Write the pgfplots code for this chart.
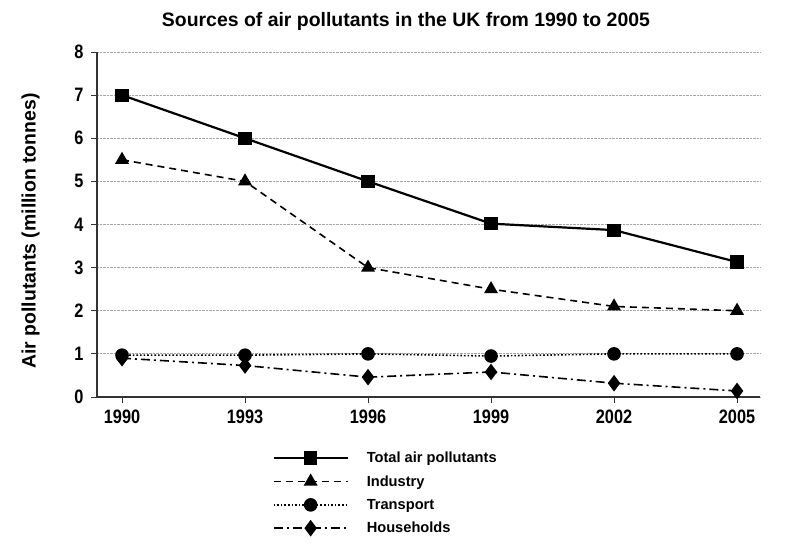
\documentclass[border=0pt]{standalone}
\usepackage{fontspec}
\setmainfont{Liberation Sans}
\newfontfamily\narrowfont{Liberation Sans}[FakeStretch=0.84]
\usepackage{pgfplots}
\pgfplotsset{compat=1.18}
\begin{document}
\begin{tikzpicture}
\path[use as bounding box] (-97bp,-153bp) rectangle (703bp,397bp);
\begin{axis}[
  scale only axis,
  width=663bp, height=345bp,
  at={(0,0)}, anchor=south west,
  xmin=1989.39, xmax=2005.56,
  ymin=0, ymax=8,
  axis lines=left,
  axis line style={-, line width=1.2bp, black!80},
  xtick={1990,1993,1996,1999,2002,2005},
  ytick={0,1,...,8},
  tick align=outside,
  major tick length=6bp,
  tick style={line width=1bp, black!80},
  xticklabel style={font=\narrowfont\bfseries\fontsize{19.5}{21}\selectfont, yshift=-3bp},
  yticklabel style={font=\narrowfont\bfseries\fontsize{19.5}{21}\selectfont, xshift=-4bp},
  /pgf/number format/assume math mode=true,
  /pgf/number format/1000 sep={},
  ymajorgrids,
  major grid style={densely dotted, gray!70, line width=0.8bp},
  ylabel={\bfseries Air pollutants (million tonnes)},
  ylabel style={font=\fontsize{19.5}{21}\selectfont, at={(rel axis cs:-0.100,0.481)}, anchor=center},
  title={\bfseries Sources of air pollutants in the UK from 1990 to 2005},
  title style={font=\fontsize{19.5}{21}\selectfont, at={(rel axis cs:0.466,1)}, anchor=south, yshift=12bp},
  clip=false,
  legend style={at={(rel axis cs:0.26,-0.147)}, anchor=north west, draw=none,
    font=\bfseries\fontsize{14.7}{16}\selectfont, row sep=7.5bp,
    legend cell align=left,
    /tikz/every odd column/.append style={column sep=16bp}},
  legend image code/.code={\draw[mark repeat=2,mark phase=2,#1] plot coordinates {(0bp,0bp) (37bp,0bp) (74bp,0bp)};},
]
\addplot[black, line width=2.2bp, mark=square*, mark size=5.5bp, mark options={solid}]
  coordinates {(1990,7.0) (1993,6.0) (1996,5.0) (1999,4.02) (2002,3.87) (2005,3.13)};
\addlegendentry{Total air pollutants}
\addplot[black, line width=1.6bp, dash pattern=on 7bp off 5bp, mark=triangle*, mark size=6.5bp, mark options={solid}]
  coordinates {(1990,5.5) (1993,5.0) (1996,3.0) (1999,2.5) (2002,2.1) (2005,2.0)};
\addlegendentry{Industry}
\addplot[black, line width=1.6bp, dash pattern=on 1.6bp off 2bp, mark=*, mark size=6bp, mark options={solid}]
  coordinates {(1990,0.97) (1993,0.97) (1996,1.0) (1999,0.95) (2002,1.0) (2005,1.0)};
\addlegendentry{Transport}
\addplot[black, line width=1.6bp, dash pattern=on 9bp off 4bp on 2bp off 4bp, mark=diamond*, mark size=7bp, mark options={solid}]
  coordinates {(1990,0.9) (1993,0.73) (1996,0.46) (1999,0.58) (2002,0.32) (2005,0.14)};
\addlegendentry{Households}
\end{axis}
\end{tikzpicture}
\end{document}
